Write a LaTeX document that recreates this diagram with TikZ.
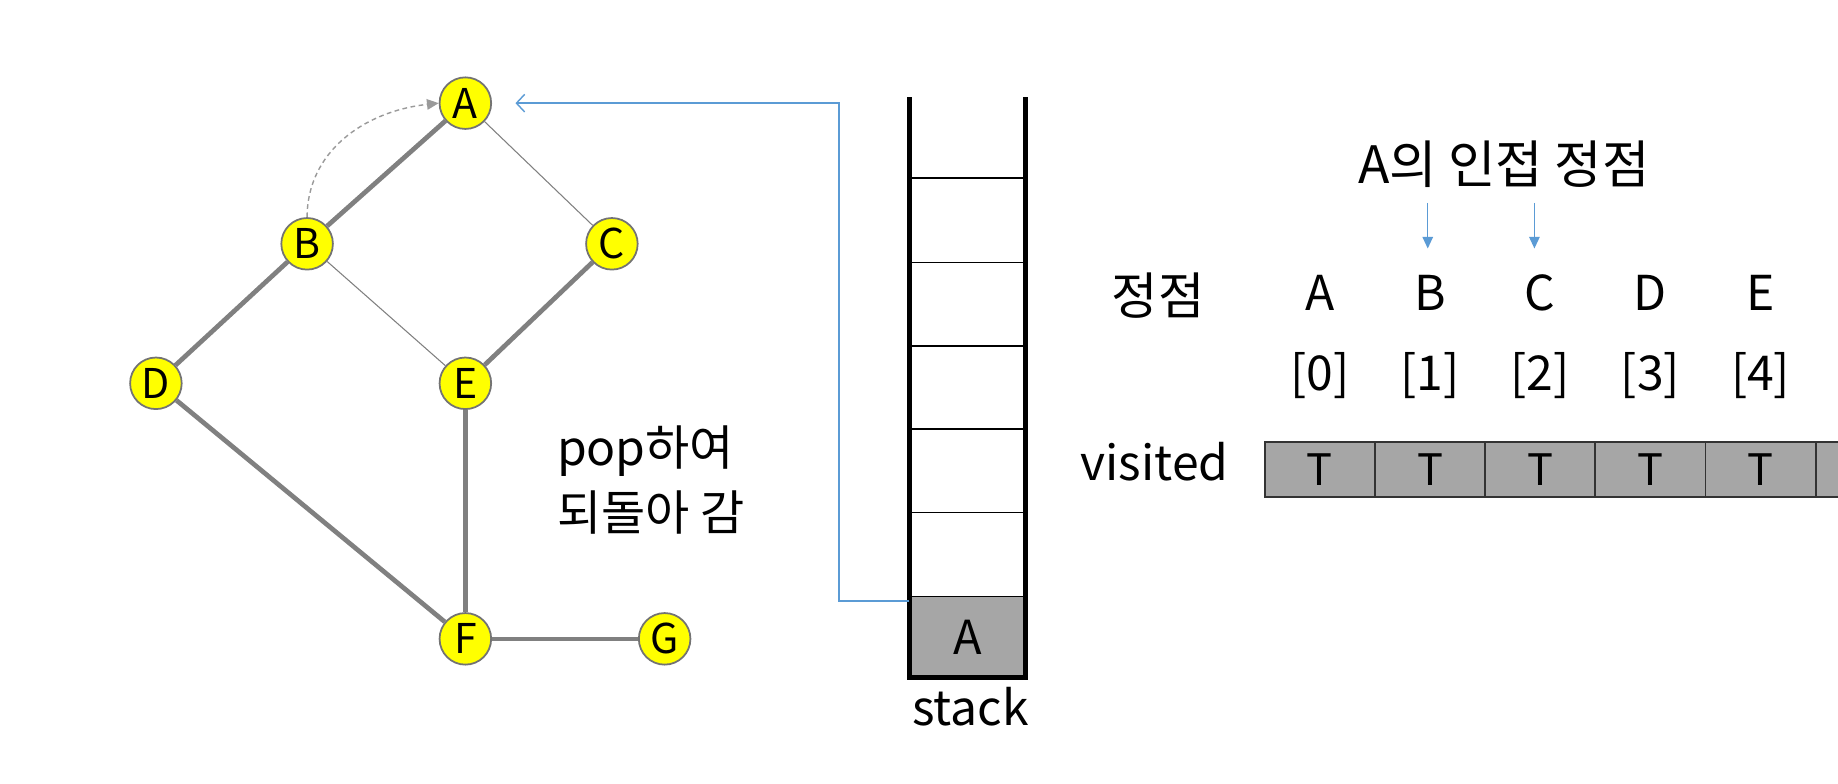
\documentclass[tikz,border=0pt]{standalone}
\usepackage{fontspec}
\setmainfont{Noto Sans CJK KR}
\usetikzlibrary{arrows.meta,backgrounds}
\definecolor{nodeyellow}{HTML}{FFFF00}
\definecolor{edgegray}{HTML}{808080}
\definecolor{cellgray}{HTML}{A6A6A6}
\definecolor{arrowblue}{HTML}{5B9BD5}
\definecolor{dashgray}{HTML}{9A9A9A}
\begin{document}
\begin{tikzpicture}[x=1pt,y=-1pt,
  vert/.style={circle,draw=black!55,line width=1.5pt,fill=nodeyellow,minimum size=44pt,inner sep=0pt,font=\fontsize{35}{35}\selectfont},
  thickedge/.style={edgegray,line width=4pt},
  thinedge/.style={edgegray,line width=0.9pt},
  cell/.style={draw=black!80,line width=1.5pt,fill=cellgray,minimum width=94pt,minimum height=47pt,inner sep=0pt,font=\fontsize{37}{37}\selectfont},
  stackcell/.style={fill=cellgray,minimum width=99pt,minimum height=69pt,inner sep=0pt,font=\fontsize{40}{40}\selectfont},
  lbl/.style={inner sep=0pt,font=\fontsize{41}{41}\selectfont},
  blue/.style={arrowblue,line width=1.2pt},
]
\useasboundingbox (0,0) rectangle (1568,668);

% graph
\node[vert] (A) at (397,88) {A};
\node[vert] (B) at (262,208) {B};
\node[vert] (C) at (522,208) {C};
\node[vert] (D) at (133,327) {D};
\node[vert] (E) at (397,327) {E};
\node[vert] (F) at (397,545) {F};
\node[vert] (G) at (567,545) {G};
\begin{scope}[on background layer]
\fill[white] (0,0) rectangle (1568,668);
\draw[thinedge] (A) -- (C);
\draw[thinedge] (B) -- (E);
\draw[thickedge] (A) -- (B);
\draw[thickedge] (B) -- (D);
\draw[thickedge] (C) -- (E);
\draw[thickedge] (D) -- (F);
\draw[thickedge] (E) -- (F);
\draw[thickedge] (F) -- (G);
\end{scope}

\draw[dashgray,line width=1.2pt,dash pattern=on 4pt off 3pt,-{Triangle[length=10pt,width=9pt]}]
  (B.north) .. controls (262,130) and (310,95) .. (A.west);

\node[lbl,anchor=west] (pop) at (475,385) {pop하여};
\node[lbl,anchor=west] (back) at (475,437) {되돌아 감};

% stack
\node[stackcell] (stA) at (825.5,543.5) {A};
\foreach \y in {152,224,295,366,437,509}
  \draw[black,line width=1.2pt] (776,\y) -- (875,\y);
\draw[black,line width=4pt] (776,83) -- (776,578) -- (875,578) -- (875,83);
\node[lbl,anchor=north] (stk) at (828,586) {stack};

\draw[blue,-{Straight Barb[length=7pt,width=15pt]},shorten >=20pt]
  ([yshift=-4pt]stA.north west) -- ++(-60,0) |- (A.east);

% visited array
\node[inner sep=0pt,font=\fontsize{44}{44}\selectfont] (title) at (1283,140) {A의 인접 정점};
\node[inner sep=0pt,font=\fontsize{43}{43}\selectfont] (hd) at (988,252) {정점};
\node[lbl] (vis) at (985,394) {visited};
\foreach \k in {0,...,4}{
  \node[cell] (c\k) at (1126+94*\k,400.5) {T};
}
\node[cell] (c5) at (1596,400.5) {};
\foreach \n/\k in {A/0,B/1,C/2,D/3,E/4}{
  \node[lbl] (h\k) at (1126+94*\k,250) {\n};
  \node[lbl] (i\k) at (1126+94*\k,320) {[\k]};
}
\coordinate (s1) at (1218,173);
\coordinate (s2) at (1309,173);
\coordinate (t1) at (1218,212);
\coordinate (t2) at (1309,212);
\draw[blue,-{Triangle[length=10pt,width=9pt]}] (s1) -- (t1);
\draw[blue,-{Triangle[length=10pt,width=9pt]}] (s2) -- (t2);
\end{tikzpicture}
\end{document}
